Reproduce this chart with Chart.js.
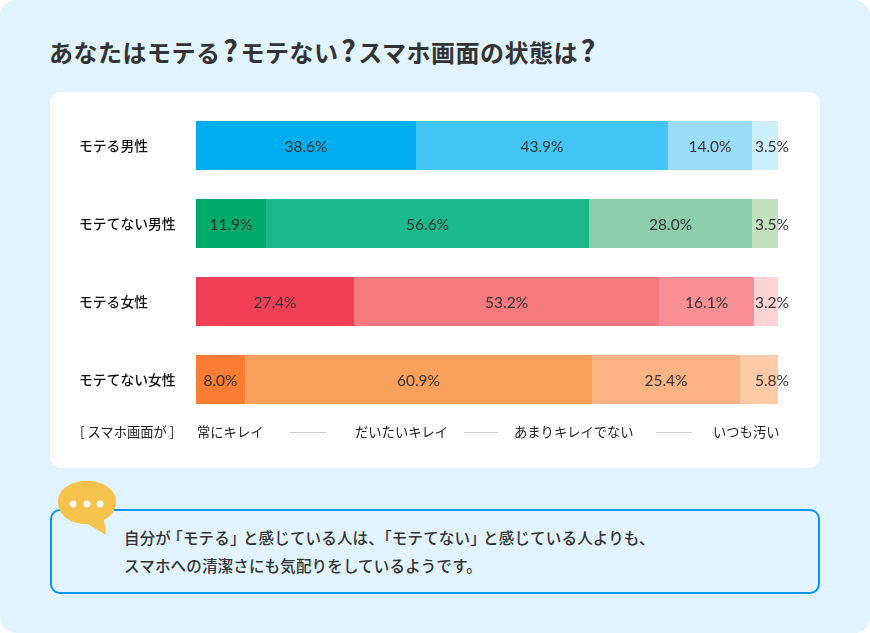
<!DOCTYPE html>
<html lang="ja">
<head>
<meta charset="utf-8">
<title>スマホ画面の状態</title>
<script src="https://cdn.jsdelivr.net/npm/chart.js@4"></script>
<style>
  html, body { margin: 0; padding: 0; background: #fff; }
  body { width: 870px; height: 633px; overflow: hidden; font-family: "Noto Sans CJK JP", sans-serif; color: #333; }
  #panel { position: absolute; left: 0; top: 0; width: 870px; height: 633px; background: #e0f3fe; border-radius: 16px; }
  h1 { position: absolute; left: 49px; top: 34px; margin: 0; font-size: 24px; line-height: 36px; font-weight: 700; letter-spacing: 0.5px; white-space: nowrap; }
  h1 span { font-size: 29px; line-height: 20px; letter-spacing: 0; margin: 0 2.5px; }
  #card { position: absolute; left: 50px; top: 92px; width: 770px; height: 376px; background: #fff; border-radius: 10px; }
  #chart { position: absolute; left: 0; top: 0; }
  .legend { position: absolute; top: 330px; font-size: 13.3px; line-height: 20px; color: #222; white-space: nowrap; }
  .sep { position: absolute; top: 340px; height: 1px; background: #ccc; }
  #note { position: absolute; left: 50px; top: 509px; width: 766px; height: 81px; border: 2px solid #0096fa; border-radius: 10px; }
  #noteText { position: absolute; left: 124px; top: 523px; margin: 0; font-size: 15.5px; letter-spacing: 0.17px; line-height: 28px; font-weight: 500; white-space: nowrap; color: #333; text-spacing-trim: space-all; }
  #noteText span { font-feature-settings: "halt"; }
  #noteText span.open { margin-left: 4px; }
  #noteText span.close { margin-right: 5px; }
  #bubble { position: absolute; left: 58px; top: 481px; }
</style>
</head>
<body>
<div id="panel"></div>
<h1>あなたはモテる<span>?</span>モテない<span>?</span>スマホ画面の状態は<span>?</span></h1>
<div id="card"><canvas id="chart" width="770" height="376"></canvas></div>
<div id="note"></div>
<svg id="bubble" width="60" height="56" viewBox="0 0 60 56">
  <path d="M29 0C45 0 58 8 58 21C58 30 52 36 46 39L48 54L30 43C13 44 0 34 0 21C0 8 13 0 29 0Z" fill="#f5c34b"/>
  <circle cx="15" cy="23" r="3.4" fill="#fff"/>
  <circle cx="29" cy="23" r="3.4" fill="#fff"/>
  <circle cx="42" cy="23" r="3.4" fill="#fff"/>
</svg>
<p id="noteText">自分が<span class="open">「</span>モテる<span class="close">」</span>と感じている人は、<span>「</span>モテてない<span class="close">」</span>と感じている人よりも、<br>スマホへの清潔さにも気配りをしているようです。</p>

<script>
const categories = ['モテる男性', 'モテてない男性', 'モテる女性', 'モテてない女性'];
const answers = ['常にキレイ', 'だいたいキレイ', 'あまりキレイでない', 'いつも汚い'];
const legendTitle = '[ スマホ画面が ]';

// バーの長さは図から読んだ値（印字された%とは少しずれている）
const alwaysClean = [37.80, 12.03, 27.15, 8.42];
const mostlyClean = [43.30, 55.50, 52.41, 59.62];
const notVeryClean = [14.43, 28.01, 16.32, 25.43];
const alwaysDirty = [4.47, 4.46, 4.12, 6.53];

// バーの上に印字されている%
const alwaysCleanLabels = ['38.6%', '11.9%', '27.4%', '8.0%'];
const mostlyCleanLabels = ['43.9%', '56.6%', '53.2%', '60.9%'];
const notVeryCleanLabels = ['14.0%', '28.0%', '16.1%', '25.4%'];
const alwaysDirtyLabels = ['3.5%', '3.5%', '3.2%', '5.8%'];

const alwaysCleanColors = ['#00aeef', '#00a96c', '#f23f56', '#fa7d33'];
const mostlyCleanColors = ['#43c6f5', '#1cb88d', '#f5797d', '#f9a05d'];
const notVeryCleanColors = ['#9bdcf8', '#8ecdab', '#f88f94', '#fbb384'];
const alwaysDirtyColors = ['#cdeefb', '#c3e2c0', '#fdd3d3', '#fecba6'];

// 凡例の行
const card = document.getElementById('card');
function addLegend(text, left) {
    const span = document.createElement('span');
    span.className = 'legend';
    span.style.left = left + 'px';
    span.textContent = text;
    card.appendChild(span);
}
function addSep(left, width) {
    const line = document.createElement('div');
    line.className = 'sep';
    line.style.left = left + 'px';
    line.style.width = width + 'px';
    card.appendChild(line);
}
addLegend(legendTitle, 30);
addLegend(answers[0], 147);
addLegend(answers[1], 305);
addLegend(answers[2], 464);
addLegend(answers[3], 663);
addSep(240, 36);
addSep(414, 34);
addSep(606, 36);

// Chart.js だけで%を描くプラグイン
const barLabels = {
    id: 'barLabels',
    afterDatasetsDraw(chart) {
        const ctx = chart.ctx;
        ctx.save();
        ctx.font = '15.5px Lato, "Open Sans", sans-serif';
        ctx.fillStyle = '#333';
        ctx.textAlign = 'center';
        ctx.textBaseline = 'middle';
        chart.data.datasets.forEach((ds, d) => {
            chart.getDatasetMeta(d).data.forEach((bar, i) => {
                // 一番右の列はバーの右端にそろっている
                const x = d === 3 ? chart.scales.x.getPixelForValue(100) - 6 : (bar.base + bar.x) / 2;
                ctx.fillText(ds.labelsText[i], x, bar.y + 1);
            });
        });
        ctx.restore();
    }
};

function makeDataset(i, values, colors, labelsText) {
    return { label: answers[i], data: values, backgroundColor: colors, labelsText: labelsText, barPercentage: 0.628, categoryPercentage: 1 };
}

new Chart(document.getElementById('chart').getContext('2d'), {
    type: 'bar',
    data: {
        labels: categories,
        datasets: [
            makeDataset(0, alwaysClean, alwaysCleanColors, alwaysCleanLabels),
            makeDataset(1, mostlyClean, mostlyCleanColors, mostlyCleanLabels),
            makeDataset(2, notVeryClean, notVeryCleanColors, notVeryCleanLabels),
            makeDataset(3, alwaysDirty, alwaysDirtyColors, alwaysDirtyLabels)
        ]
    },
    options: {
        indexAxis: 'y',
        responsive: false,
        animation: false,
        layout: { padding: { left: 29, right: 42, top: 14.5, bottom: 49.5 } },
        plugins: { legend: { display: false }, tooltip: { enabled: false } },
        scales: {
            x: { stacked: true, min: 0, max: 100, display: false },
            y: {
                stacked: true,
                afterFit(scale) { scale.width = 117; },
                grid: { display: false },
                border: { display: false },
                ticks: {
                    crossAlign: 'far',
                    padding: 0,
                    color: '#111',
                    font: { family: '"Noto Sans CJK JP", sans-serif', size: 13.8, weight: '500' }
                }
            }
        }
    },
    plugins: [barLabels]
});
</script>
</body>
</html>
